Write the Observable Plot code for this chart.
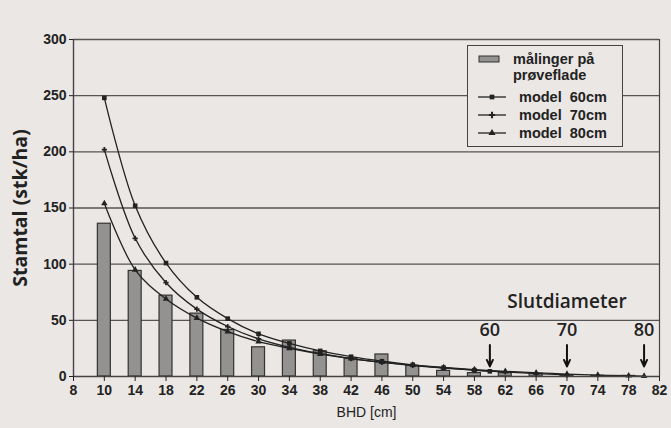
<!DOCTYPE html>
<html>
<head>
<meta charset="utf-8">
<script src="https://cdn.jsdelivr.net/npm/d3@7"></script>
<script src="https://cdn.jsdelivr.net/npm/@observablehq/plot@0.6"></script>
<style>
  html, body { margin: 0; padding: 0; background: #ebe7e4; }
  #wrap { position: relative; width: 671px; height: 428px; background: #ebe7e4; }
  #legend { position: absolute; left: 467px; top: 45px; width: 156px; height: 102px;
    border: 1.5px solid #444; background: #ebe7e4; box-sizing: border-box;
    font-family: "Liberation Sans", Arial, sans-serif; font-weight: bold; color: #222; }
  #legend .row { position: absolute; display: flex; align-items: center; }
  #legend svg { display: block; }
  svg text { fill: #222; }
</style>
</head>
<body>
<div id="wrap"></div>
<script>
// ---- data ----
const classes = [10, 14, 18, 22, 26, 30, 34, 38, 42, 46, 50, 54, 58, 62, 66, 70, 74, 78];
const measured = [136, 94, 72, 56, 41.5, 26, 32, 22.5, 16, 19.6, 9.5, 5, 3, 3, 2.5, 1.2, 0.6, 0.5];

const model60x = [10, 14, 18, 22, 26, 30, 34, 38, 42, 46, 50, 54, 58, 60];
const model60y = [248, 152, 101, 70.5, 51.5, 38, 29.5, 22.8, 17.6, 13.6, 10.4, 7.8, 5.6, 4.6];
const model70x = [10, 14, 18, 22, 26, 30, 34, 38, 42, 46, 50, 54, 58, 62, 66, 70];
const model70y = [202, 123, 83.5, 60, 44.5, 33.5, 26, 20.5, 16, 12.6, 9.8, 7.5, 5.6, 4, 2.6, 1.4];
const model80x = [10, 14, 18, 22, 26, 30, 34, 38, 42, 46, 50, 54, 58, 62, 66, 70, 74, 78, 80];
const model80y = [154, 95, 69, 52, 40, 31, 25, 20, 16, 12.8, 10.2, 8, 6.2, 4.6, 3.3, 2.2, 1.3, 0.7, 0.4];

const xTicks = [6, 10, 14, 18, 22, 26, 30, 34, 38, 42, 46, 50, 54, 58, 62, 66, 70, 74, 78, 82];
const xTickLabels = ["8", "10", "14", "18", "22", "26", "30", "34", "38", "42", "46", "50", "54", "58", "62", "66", "70", "74", "78", "82"];
const yTicks = [0, 50, 100, 150, 200, 250, 300];
const endDiameters = [60, 70, 80];

// ---- tables ----
const bars = classes.map((d, i) => ({d, n: measured[i]}));
const mk = (xs, ys, name) => xs.map((d, i) => ({d, n: ys[i], model: name}));
const m60 = mk(model60x, model60y, "60");
const m70 = mk(model70x, model70y, "70");
const m80 = mk(model80x, model80y, "80");
const arrows = endDiameters.map(d => ({d, label: String(d)}));

const halfBar = 0.84;
const lineColor = "#222";

const chart = Plot.plot({
  width: 671,
  height: 428,
  marginLeft: 73,
  marginRight: 12,
  marginTop: 39,
  marginBottom: 52,
  style: {background: "transparent", fontFamily: "'Liberation Sans', Arial, sans-serif", fontSize: "14px", color: "#222"},
  x: {domain: [6, 82]},
  y: {domain: [0, 300]},
  marks: [
    Plot.ruleY(yTicks.filter(v => v > 0), {stroke: "#555", strokeWidth: 1.4}),
    Plot.ruleX([82], {stroke: "#444", strokeWidth: 1.2}),
    Plot.rectY(bars, {x1: d => d.d - halfBar, x2: d => d.d + halfBar, y: "n", fill: "#949290", stroke: "#333", strokeWidth: 1.2}),
    Plot.line(m60, {x: "d", y: "n", curve: "catmull-rom", stroke: lineColor, strokeWidth: 1.3}),
    Plot.line(m70, {x: "d", y: "n", curve: "catmull-rom", stroke: lineColor, strokeWidth: 1.3}),
    Plot.line(m80, {x: "d", y: "n", curve: "catmull-rom", stroke: lineColor, strokeWidth: 1.3}),
    Plot.dot(m60, {x: "d", y: "n", symbol: "square", r: 2.6, fill: "#222"}),
    Plot.dot(m70, {x: "d", y: "n", symbol: "cross", r: 2.2, fill: "#222"}),
    Plot.dot(m80, {x: "d", y: "n", symbol: "triangle", r: 2.4, fill: "#222"}),
    Plot.ruleY([0], {stroke: "#444", strokeWidth: 1.4}),
    Plot.ruleX([6], {stroke: "#444", strokeWidth: 1.4}),
    Plot.axisX({ticks: xTicks, tickFormat: v => xTickLabels[xTicks.indexOf(v)], tickSize: 5, tickPadding: 4,
      fontWeight: "bold", fontSize: 14,
      label: "BHD [cm]", labelAnchor: "center", labelArrow: "none", labelOffset: 40}),
    Plot.axisY({ticks: yTicks, tickSize: 4, tickPadding: 3, fontWeight: "bold", fontSize: 14,
      label: "Stamtal (stk/ha)", labelAnchor: "center", labelArrow: "none", labelOffset: 60}),
    Plot.arrow(arrows, {x1: "d", x2: "d", y1: 28, y2: 9, stroke: "#111", strokeWidth: 2, headLength: 9, headAngle: 50}),
    Plot.text(arrows, {x: "d", y: 41, text: "label", fontSize: 18, fontWeight: 600, fontFamily: "'Open Sans', sans-serif"}),
    Plot.text(["Slutdiameter"], {x: 70, y: 66, text: d => d, fontSize: 19, fontWeight: 600, fontFamily: "'Open Sans', sans-serif"})
  ]
});

const wrap = document.getElementById("wrap");
wrap.appendChild(chart);

// axis label styling
chart.querySelectorAll('g[aria-label="y-axis label"] text').forEach(t => {
  t.setAttribute("font-size", "19.5"); t.setAttribute("font-weight", "bold");
  t.setAttribute("font-family", "'Open Sans', sans-serif");
});
chart.querySelectorAll('g[aria-label="x-axis label"] text').forEach(t => {
  t.setAttribute("font-weight", "normal");
});

// ---- legend ----
const legend = document.createElement("div");
legend.id = "legend";
const entries = [
  {type: "bar", text: ["målinger på", "prøveflade"], top: 5},
  {type: "square", text: ["model  60cm"], top: 43},
  {type: "cross", text: ["model  70cm"], top: 61},
  {type: "triangle", text: ["model  80cm"], top: 79}
];
for (const e of entries) {
  const row = document.createElement("div");
  row.className = "row";
  row.style.left = "9px";
  row.style.top = e.top + "px";
  const s = d3.create("svg").attr("width", 30).attr("height", 16);
  if (e.type === "bar") {
    s.append("rect").attr("x", 2).attr("y", 5).attr("width", 20).attr("height", 6).attr("fill", "#949290").attr("stroke", "#333");
  } else {
    s.append("line").attr("x1", 1).attr("x2", 29).attr("y1", 8).attr("y2", 8).attr("stroke", "#222").attr("stroke-width", 1.3);
    s.append("path").attr("transform", "translate(15,8)")
      .attr("d", d3.symbol(e.type === "square" ? d3.symbolSquare : e.type === "cross" ? d3.symbolCross : d3.symbolTriangle, 22)())
      .attr("fill", "#222");
  }
  row.appendChild(s.node());
  const t = document.createElement("div");
  t.style.marginLeft = e.type === "bar" ? "6px" : "12px";
  t.style.fontSize = "14.5px";
  t.style.lineHeight = "16px";
  t.style.whiteSpace = "pre";
  t.innerHTML = e.text.join("<br>");
  if (e.type === "bar") s.node().style.alignSelf = "flex-start";
  row.appendChild(t);
  legend.appendChild(row);
}
wrap.appendChild(legend);
</script>
</body>
</html>
